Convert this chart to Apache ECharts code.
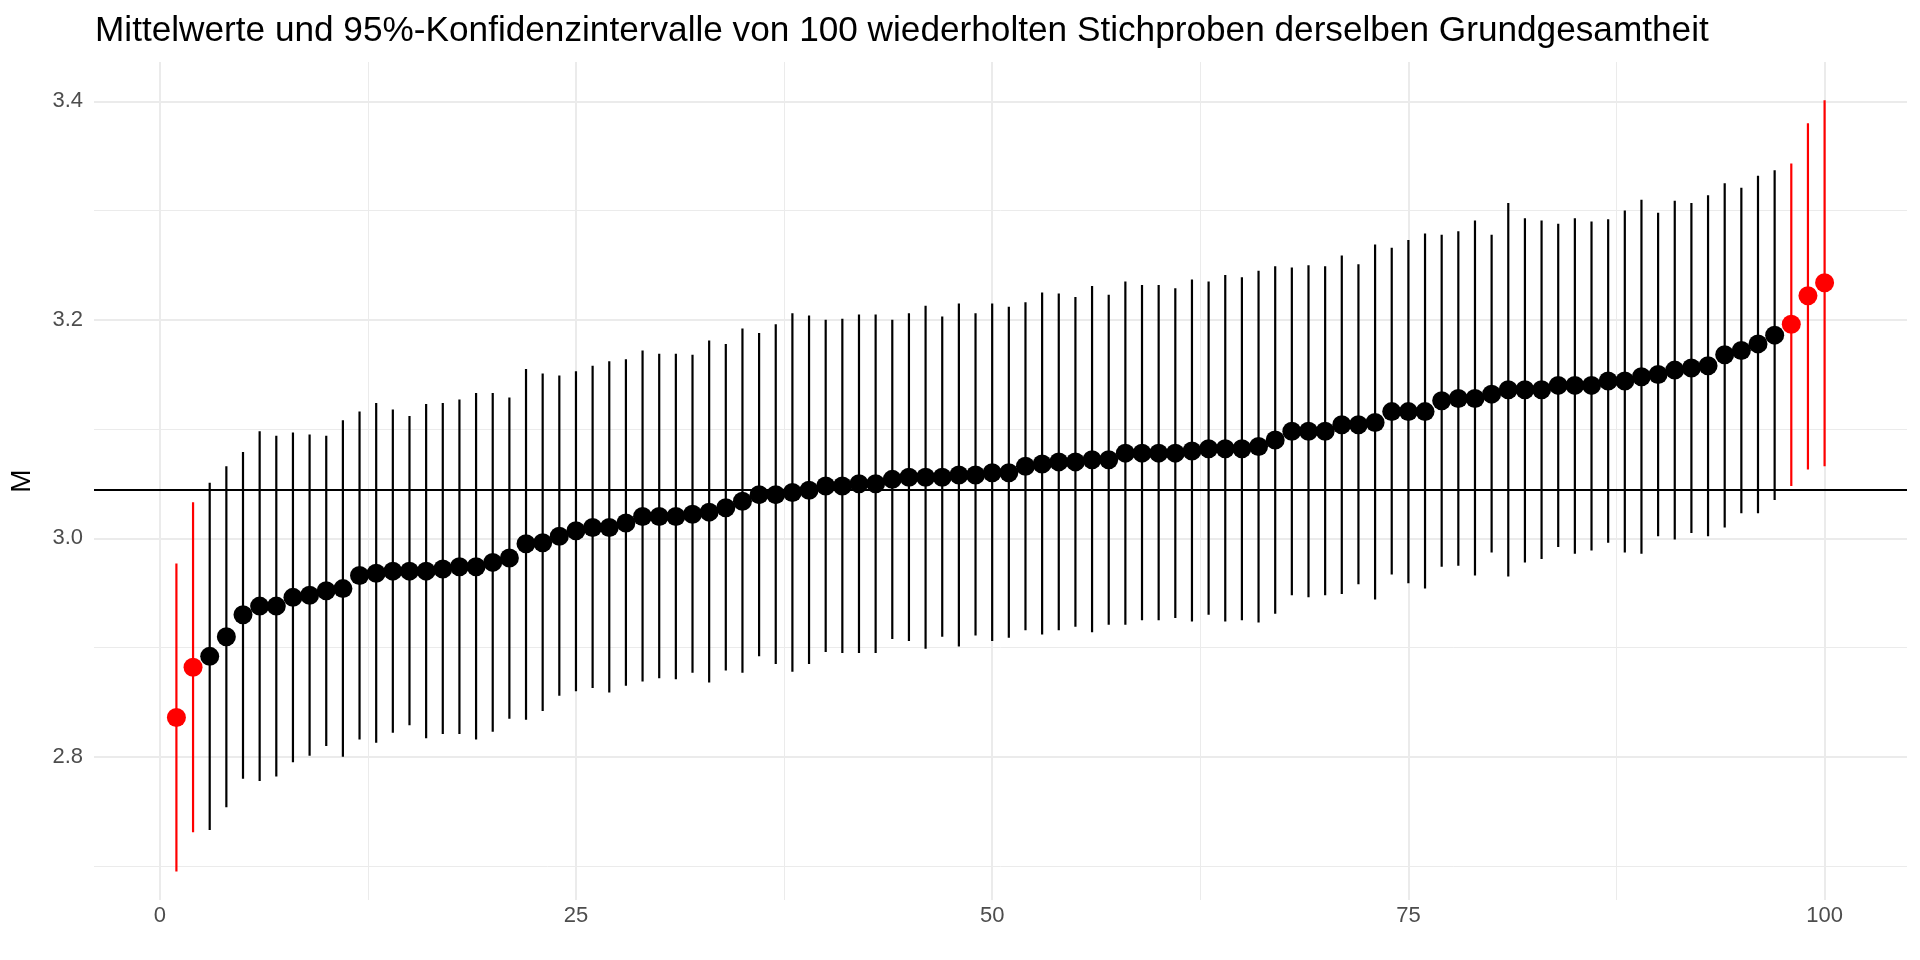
<!DOCTYPE html>
<html>
<head>
<meta charset="utf-8">
<script src="https://cdn.jsdelivr.net/npm/echarts@6/dist/echarts.min.js"></script>
<style>
html,body{margin:0;padding:0;background:#fff;}
#chart{width:1920px;height:960px;}
</style>
</head>
<body>
<div id="chart"></div>
<script>
// ---- data ----
const sampleIndex = Array.from({length: 100}, (_, i) => i + 1);
const means = [
2.836,2.882,2.892,2.910,2.930,2.938,2.938,2.946,2.948,2.952,
2.954,2.966,2.968,2.970,2.970,2.970,2.972,2.974,2.974,2.978,
2.982,2.995,2.996,3.002,3.007,3.010,3.010,3.014,3.020,3.020,
3.020,3.022,3.024,3.028,3.034,3.040,3.040,3.042,3.044,3.048,
3.048,3.050,3.050,3.054,3.056,3.056,3.056,3.058,3.058,3.060,
3.060,3.066,3.068,3.070,3.070,3.072,3.072,3.078,3.078,3.078,
3.078,3.080,3.082,3.082,3.082,3.084,3.090,3.098,3.098,3.098,
3.104,3.104,3.106,3.116,3.116,3.116,3.126,3.128,3.128,3.132,
3.136,3.136,3.136,3.140,3.140,3.140,3.144,3.144,3.148,3.150,
3.154,3.156,3.158,3.168,3.172,3.178,3.186,3.196,3.222,3.234
];
const lower = [
2.695,2.731,2.733,2.754,2.780,2.778,2.782,2.795,2.801,2.810,
2.800,2.816,2.813,2.822,2.829,2.817,2.821,2.821,2.816,2.823,
2.835,2.834,2.842,2.856,2.860,2.863,2.859,2.865,2.869,2.872,
2.871,2.877,2.868,2.879,2.877,2.892,2.885,2.878,2.885,2.896,
2.895,2.895,2.895,2.908,2.906,2.899,2.910,2.901,2.911,2.906,
2.909,2.916,2.912,2.916,2.919,2.914,2.921,2.921,2.925,2.925,
2.927,2.924,2.930,2.924,2.925,2.923,2.931,2.948,2.946,2.948,
2.949,2.958,2.944,2.967,2.959,2.954,2.974,2.975,2.966,2.987,
2.965,2.978,2.981,2.992,2.986,2.989,2.996,2.987,2.986,3.002,
2.999,3.005,3.002,3.010,3.023,3.023,3.035,3.048,3.063,3.066
];
const upper = [
2.977,3.033,3.051,3.066,3.079,3.098,3.094,3.097,3.095,3.094,
3.108,3.116,3.124,3.118,3.112,3.123,3.124,3.127,3.133,3.133,
3.129,3.155,3.151,3.149,3.153,3.158,3.162,3.164,3.172,3.169,
3.169,3.168,3.181,3.178,3.192,3.188,3.196,3.206,3.204,3.200,
3.201,3.205,3.205,3.200,3.206,3.213,3.203,3.215,3.206,3.215,
3.212,3.216,3.225,3.224,3.221,3.231,3.223,3.235,3.232,3.232,
3.229,3.237,3.235,3.241,3.239,3.245,3.249,3.248,3.250,3.249,
3.259,3.251,3.269,3.266,3.273,3.279,3.278,3.281,3.291,3.278,
3.307,3.293,3.291,3.288,3.293,3.290,3.292,3.300,3.310,3.298,
3.309,3.307,3.314,3.325,3.321,3.332,3.337,3.343,3.380,3.401
];
const populationMean = 3.0445;
const xRange = [-3.95, 104.95];
const yRange = [2.669, 3.436];
const xTickLabels = [0, 25, 50, 75, 100];
const xMinorTicks = [12.5, 37.5, 62.5, 87.5];
const yTickLabels = [2.8, 3.0, 3.2, 3.4];
const yMinorTicks = [2.7, 2.9, 3.1, 3.3];
const titleText = 'Mittelwerte und 95%-Konfidenzintervalle von 100 wiederholten Stichproben derselben Grundgesamtheit';
const yAxisTitle = 'M';

// ---- build ----
const missed = sampleIndex.map((_, i) => lower[i] > populationMean || upper[i] < populationMean);
const RED = '#FF0000', BLACK = '#000000', GRID = '#EBEBEB';

const rangeData = sampleIndex.map((x, i) => [x, lower[i], upper[i], missed[i] ? 1 : 0]);
const pointData = sampleIndex.map((x, i) => ({
  value: [x, means[i]],
  itemStyle: { color: missed[i] ? RED : BLACK, opacity: 1 }
}));

const gridLines = [];
xTickLabels.forEach(v => gridLines.push({ xAxis: v, lineStyle: { color: GRID, width: 2, type: 'solid' } }));
xMinorTicks.forEach(v => gridLines.push({ xAxis: v, lineStyle: { color: GRID, width: 1, type: 'solid' } }));
yTickLabels.forEach(v => gridLines.push({ yAxis: v, lineStyle: { color: GRID, width: 2, type: 'solid' } }));
yMinorTicks.forEach(v => gridLines.push({ yAxis: v, lineStyle: { color: GRID, width: 1, type: 'solid' } }));

const chart = echarts.init(document.getElementById('chart'), null, { renderer: 'canvas' });
chart.setOption({
  animation: false,
  backgroundColor: '#FFFFFF',
  textStyle: { fontFamily: 'Liberation Sans, Arial, sans-serif' },
  title: {
    text: titleText,
    left: 90,
    top: 9,
    textStyle: { fontSize: 35.2, fontWeight: 'normal', color: '#000000', fontFamily: 'Liberation Sans' }
  },
  grid: { left: 91, right: 13, top: 62, bottom: 60, containLabel: false },
  xAxis: {
    type: 'value',
    min: xRange[0],
    max: xRange[1],
    axisLine: { show: false },
    axisTick: { show: false },
    splitLine: { show: false },
    axisLabel: {
      customValues: xTickLabels,
      color: '#4D4D4D',
      fontSize: 22,
      margin: 5,
      fontFamily: 'Liberation Sans'
    }
  },
  yAxis: {
    type: 'value',
    min: yRange[0],
    max: yRange[1],
    name: yAxisTitle,
    nameLocation: 'middle',
    nameRotate: 90,
    nameGap: 58,
    nameTextStyle: { fontSize: 28, color: '#000000', fontFamily: 'Liberation Sans' },
    axisLine: { show: false },
    axisTick: { show: false },
    splitLine: { show: false },
    axisLabel: {
      customValues: yTickLabels,
      formatter: v => v.toFixed(1),
      color: '#4D4D4D',
      fontSize: 22,
      margin: 11,
      fontFamily: 'Liberation Sans'
    }
  },
  series: [
    {
      type: 'line',
      data: [],
      silent: true,
      z: 0,
      markLine: {
        silent: true,
        z: 0,
        precision: 4,
        symbol: 'none',
        label: { show: false },
        animation: false,
        data: gridLines
      }
    },
    {
      type: 'line',
      data: [],
      silent: true,
      z: 1,
      markLine: {
        silent: true,
        z: 1,
        precision: 4,
        symbol: 'none',
        label: { show: false },
        animation: false,
        data: [{ yAxis: populationMean, lineStyle: { color: BLACK, width: 2, type: 'solid' } }]
      }
    },
    {
      type: 'custom',
      z: 10,
      data: rangeData,
      renderItem: function (params, api) {
        const x = api.value(0);
        const p1 = api.coord([x, api.value(1)]);
        const p2 = api.coord([x, api.value(2)]);
        return {
          type: 'line',
          shape: { x1: p1[0], y1: p1[1], x2: p2[0], y2: p2[1] },
          style: { stroke: api.value(3) ? RED : BLACK, lineWidth: 2.2 }
        };
      }
    },
    {
      type: 'scatter',
      z: 11,
      symbol: 'circle',
      symbolSize: 19,
      itemStyle: { opacity: 1 },
      data: pointData
    }
  ]
});
</script>
</body>
</html>
